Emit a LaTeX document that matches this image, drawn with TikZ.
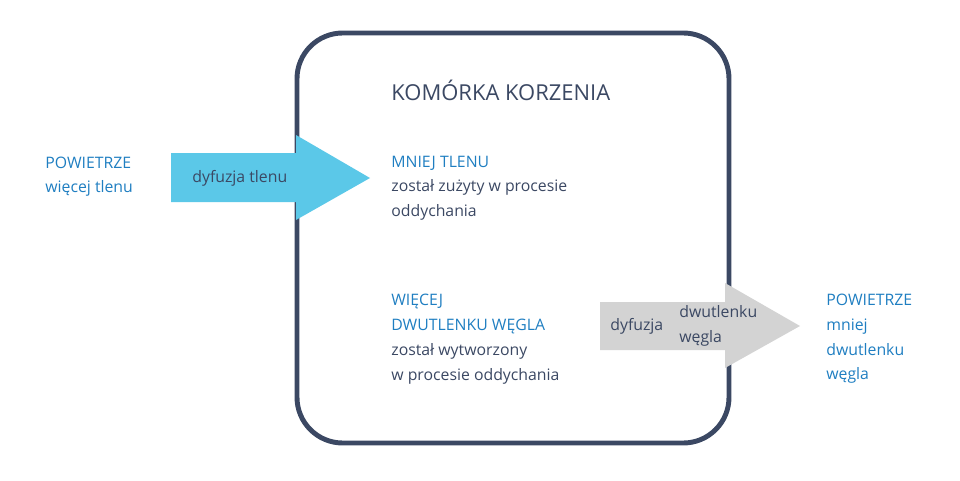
\documentclass[tikz,border=0pt]{standalone}
\usepackage{fontspec}
\setmainfont{Open Sans}
\definecolor{navy}{HTML}{3B4863}
\definecolor{cyanA}{HTML}{5BC8E8}
\definecolor{greyA}{HTML}{D3D3D3}
\definecolor{blueT}{HTML}{1F7EC1}
\begin{document}
\begin{tikzpicture}[x=0.02cm,y=-0.02cm,
  txt/.style={anchor=west,inner sep=0pt,align=left,font=\fontsize{9}{14}\selectfont,text=navy},
  btxt/.style={txt,text=blueT}]
\useasboundingbox (0,0) rectangle (960,480);
\draw[navy,line width=2.8pt,rounded corners=26pt] (297,33) rectangle (729,443);
\fill[cyanA] (171,153) -- (296,153) -- (296,135) -- (370,178) -- (296,220) -- (296,202) -- (171,202) -- cycle;
\fill[greyA] (600,302) -- (725,302) -- (725,283) -- (800,326) -- (725,368) -- (725,350) -- (600,350) -- cycle;
\node[txt,font=\fontsize{12.5}{15}\selectfont] (title) at (391,90) {KOMÓRKA KORZENIA};
\node[btxt] (air1a) at (45,163) {POWIETRZE};
\node[btxt] (air1b) at (45,188) {więcej tlenu};
\node[txt] (dt) at (192,178) {dyfuzja tlenu};
\node[btxt] (m1) at (391,163) {MNIEJ TLENU};
\node[txt] (m2) at (391,200) {został zużyty w procesie\\oddychania};
\node[btxt] (w1) at (391,314) {WIĘCEJ\\DWUTLENKU WĘGLA};
\node[txt] (w2) at (391,364) {został wytworzony\\w procesie oddychania};
\node[txt] (dd) at (610,326) {dyfuzja};
\node[txt] (dw) at (679,326) {dwutlenku\\węgla};
\node[btxt] (air2) at (826,339) {POWIETRZE\\mniej\\dwutlenku\\węgla};
\end{tikzpicture}
\end{document}
